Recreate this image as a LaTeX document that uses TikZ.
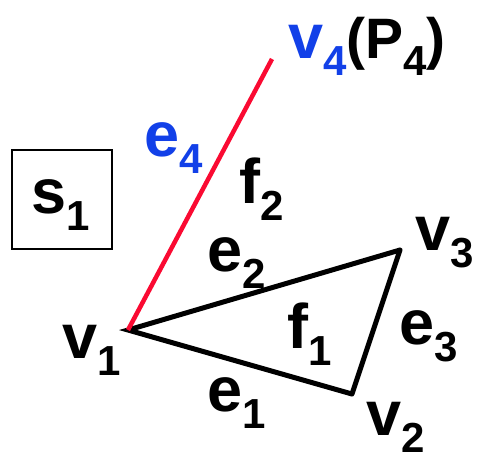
\documentclass[tikz,border=0pt]{standalone}
\usepackage{fontspec}
\setmainfont{Liberation Sans}
\usetikzlibrary{positioning}
\definecolor{mesheblue}{RGB}{18,64,232}
\definecolor{meshered}{RGB}{250,10,50}
\newcommand{\sym}[2]{#1\raisebox{-17pt}{\fontsize{42}{42}\selectfont #2}}

\begin{document}
\begin{tikzpicture}[x=1pt, y=-1pt,
  lbl/.style={anchor=base west, inner sep=0pt, font=\fontsize{63}{63}\selectfont\bfseries},
  edge/.style={line width=5pt, black},
  newedge/.style={line width=4.5pt, meshered}
]
\useasboundingbox (0,0) rectangle (478,458);
% vertices
\coordinate (v1) at (128,330);
\coordinate (v2) at (352,394);
\coordinate (v3) at (400,250);
\coordinate (v4) at (272,59);
% edges
\draw[edge] (v2) -- (v1) -- (v3);
\draw[edge, line cap=round] (v3) -- (v2);
\draw[newedge] (v1) -- (v4);
% cell box
\draw[line width=1.5pt] (12,150) rectangle (112,249);
% labels
\node[lbl] (s1lbl) at (31,213) {\sym{s}{1}};
\node[lbl, mesheblue] (v4lbl) at (288,58) {\sym{v}{4}};
\node[lbl, anchor=base west] (p4lbl) at (346,58) {\fontsize{57}{57}\selectfont(P\raisebox{-17pt}{\fontsize{42}{42}\selectfont 4})};
\node[lbl, mesheblue] (e4lbl) at (144,156) {\sym{e}{4}};
\node[lbl] (f2lbl) at (239,203) {\sym{f}{2}};
\node[lbl] (v3lbl) at (415,250) {\sym{v}{3}};
\node[lbl] (e2lbl) at (207,271) {\sym{e}{2}};
\node[lbl] (f1lbl) at (287,348) {\sym{f}{1}};
\node[lbl] (e3lbl) at (399,344) {\sym{e}{3}};
\node[lbl] (v1lbl) at (62,358) {\sym{v}{1}};
\node[lbl] (e1lbl) at (207,411) {\sym{e}{1}};
\node[lbl] (v2lbl) at (366,435) {\sym{v}{2}};
\end{tikzpicture}
\end{document}
